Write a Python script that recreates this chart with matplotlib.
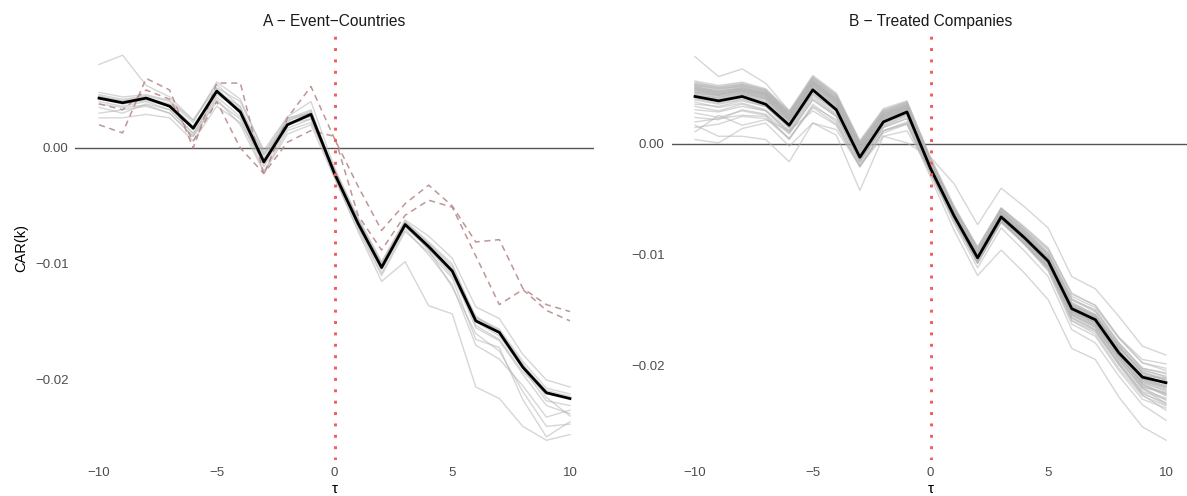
import matplotlib
matplotlib.use("Agg")
import matplotlib.pyplot as plt

plt.rcParams['font.family'] = ['Liberation Sans', 'DejaVu Sans']

tau = list(range(-10, 11))

# Mean CAR (black line), shared by both panels
car_mean = [0.0043, 0.0039, 0.0043, 0.0036, 0.0017, 0.0049, 0.0031, -0.0012, 0.0020, 0.0029,
            -0.0022, -0.0065, -0.0103, -0.0066, -0.0085, -0.0106, -0.0149, -0.0159, -0.0189, -0.0211, -0.0216]

# Panel A: leave-one-out lines (grey)
a_grey = [
    [0.0072, 0.0080, 0.0054, 0.0044, 0.0024, 0.0055, 0.0035, -0.0006, 0.0024, 0.0030, -0.0019, -0.0062, -0.0100, -0.0064, -0.0082, -0.0102, -0.0146, -0.0156, -0.0184, -0.0207, -0.0212],
    [0.0040, 0.0036, 0.0040, 0.0033, 0.0013, 0.0044, 0.0027, -0.0016, 0.0017, 0.0025, -0.0025, -0.0072, -0.0115, -0.0098, -0.0136, -0.0143, -0.0206, -0.0216, -0.0240, -0.0252, -0.0247],
    [0.0030, 0.0033, 0.0036, 0.0030, 0.0010, 0.0040, 0.0025, -0.0020, 0.0015, 0.0022, -0.0018, -0.0068, -0.0108, -0.0070, -0.0092, -0.0118, -0.0170, -0.0182, -0.0205, -0.0232, -0.0226],
    [0.0026, 0.0026, 0.0029, 0.0026, 0.0006, 0.0036, 0.0022, -0.0012, 0.0025, 0.0033, -0.0022, -0.0064, -0.0102, -0.0066, -0.0088, -0.0120, -0.0160, -0.0175, -0.0210, -0.0240, -0.0238],
    [0.0046, 0.0042, 0.0045, 0.0040, 0.0022, 0.0057, 0.0042, -0.0004, 0.0026, 0.0030, -0.0019, -0.0060, -0.0098, -0.0062, -0.0076, -0.0095, -0.0137, -0.0147, -0.0178, -0.0200, -0.0206],
    [0.0045, 0.0040, 0.0043, 0.0038, 0.0019, 0.0050, 0.0030, -0.0010, 0.0021, 0.0025, -0.0023, -0.0067, -0.0105, -0.0068, -0.0087, -0.0110, -0.0150, -0.0162, -0.0190, -0.0218, -0.0222],
    [0.0035, 0.0030, 0.0038, 0.0033, 0.0012, 0.0046, 0.0033, -0.0006, 0.0022, 0.0027, -0.0020, -0.0066, -0.0104, -0.0066, -0.0084, -0.0106, -0.0145, -0.0158, -0.0186, -0.0215, -0.0231],
    [0.0042, 0.0038, 0.0041, 0.0036, 0.0016, 0.0048, 0.0036, -0.0014, 0.0020, 0.0031, -0.0021, -0.0063, -0.0101, -0.0064, -0.0083, -0.0104, -0.0153, -0.0165, -0.0193, -0.0212, -0.0216],
    [0.0038, 0.0035, 0.0037, 0.0030, 0.0010, 0.0042, 0.0020, -0.0021, 0.0012, 0.0020, -0.0026, -0.0070, -0.0110, -0.0072, -0.0090, -0.0112, -0.0165, -0.0172, -0.0217, -0.0249, -0.0236],
    [0.0048, 0.0044, 0.0046, 0.0041, 0.0024, 0.0052, 0.0040, -0.0002, 0.0027, 0.0040, -0.0017, -0.0061, -0.0099, -0.0063, -0.0081, -0.0100, -0.0147, -0.0157, -0.0187, -0.0209, -0.0214],
    [0.0044, 0.0041, 0.0044, 0.0037, 0.0018, 0.0051, 0.0033, -0.0009, 0.0023, 0.0032, -0.0022, -0.0066, -0.0104, -0.0067, -0.0087, -0.0108, -0.0155, -0.0166, -0.0195, -0.0222, -0.0229],
]

# Panel A: dashed highlighted lines
a_dashed = [
    [0.0020, 0.0013, 0.0060, 0.0050, 0.0000, 0.0056, 0.0056, -0.0023, 0.0026, 0.0053, 0.0008, -0.0033, -0.0071, -0.0048, -0.0032, -0.0050, -0.0081, -0.0079, -0.0121, -0.0135, -0.0141],
    [0.0038, 0.0033, 0.0050, 0.0042, 0.0006, 0.0040, 0.0000, -0.0022, 0.0005, 0.0015, 0.0010, -0.0058, -0.0088, -0.0058, -0.0045, -0.0051, -0.0093, -0.0135, -0.0122, -0.0140, -0.0149],
]

# Panel B: leave-one-out lines (grey)
b_grey = [
    [0.0079, 0.0061, 0.0068, 0.0055, 0.0030, 0.0052, 0.0035, -0.0008, 0.0020, 0.0027, -0.0018, -0.0060, -0.0098, -0.0060, -0.0080, -0.0100, -0.0141, -0.0150, -0.0180, -0.0203, -0.0208],
    [0.0004, 0.0001, 0.0014, 0.0019, -0.0002, 0.0019, 0.0013, -0.0020, 0.0007, 0.0012, -0.0025, -0.0068, -0.0108, -0.0070, -0.0090, -0.0112, -0.0155, -0.0166, -0.0195, -0.0220, -0.0225],
    [0.0017, 0.0007, 0.0007, 0.0004, -0.0016, 0.0019, 0.0008, -0.0042, 0.0007, 0.0001, -0.0012, -0.0036, -0.0073, -0.0040, -0.0057, -0.0076, -0.0120, -0.0131, -0.0156, -0.0183, -0.0191],
    [0.0028, 0.0024, 0.0030, 0.0026, 0.0005, 0.0034, 0.0022, -0.0020, 0.0012, 0.0018, -0.0030, -0.0078, -0.0119, -0.0096, -0.0117, -0.0141, -0.0185, -0.0195, -0.0229, -0.0256, -0.0268],
    [0.0034, 0.0030, 0.0036, 0.0030, 0.0010, 0.0040, 0.0025, -0.0016, 0.0015, 0.0023, -0.0026, -0.0072, -0.0112, -0.0076, -0.0097, -0.0120, -0.0168, -0.0180, -0.0210, -0.0236, -0.0250],
    [0.0050, 0.0045, 0.0050, 0.0045, 0.0025, 0.0055, 0.0040, -0.0003, 0.0025, 0.0032, -0.0016, -0.0058, -0.0094, -0.0058, -0.0076, -0.0095, -0.0135, -0.0146, -0.0175, -0.0195, -0.0199],
    [0.0052, 0.0048, 0.0050, 0.0046, 0.0026, 0.0058, 0.0042, 0.0000, 0.0028, 0.0036, -0.0015, -0.0060, -0.0098, -0.0061, -0.0079, -0.0100, -0.0140, -0.0151, -0.0180, -0.0203, -0.0207],
    [0.0049, 0.0046, 0.0049, 0.0044, 0.0024, 0.0056, 0.0039, -0.0004, 0.0026, 0.0034, -0.0018, -0.0063, -0.0101, -0.0064, -0.0083, -0.0105, -0.0146, -0.0157, -0.0186, -0.0214, -0.0222],
    [0.0047, 0.0043, 0.0046, 0.0041, 0.0021, 0.0053, 0.0036, -0.0006, 0.0024, 0.0032, -0.0020, -0.0064, -0.0100, -0.0063, -0.0083, -0.0104, -0.0150, -0.0162, -0.0192, -0.0218, -0.0226],
    [0.0045, 0.0041, 0.0045, 0.0039, 0.0020, 0.0051, 0.0034, -0.0009, 0.0022, 0.0031, -0.0021, -0.0066, -0.0106, -0.0069, -0.0088, -0.0110, -0.0155, -0.0166, -0.0197, -0.0222, -0.0230],
    [0.0054, 0.0050, 0.0052, 0.0047, 0.0028, 0.0060, 0.0044, 0.0001, 0.0030, 0.0037, -0.0014, -0.0057, -0.0093, -0.0058, -0.0077, -0.0096, -0.0138, -0.0148, -0.0176, -0.0198, -0.0203],
    [0.0056, 0.0051, 0.0054, 0.0048, 0.0027, 0.0057, 0.0041, -0.0003, 0.0027, 0.0035, -0.0017, -0.0062, -0.0102, -0.0066, -0.0086, -0.0108, -0.0152, -0.0163, -0.0190, -0.0213, -0.0219],
    [0.0041, 0.0037, 0.0041, 0.0035, 0.0015, 0.0046, 0.0029, -0.0014, 0.0018, 0.0027, -0.0024, -0.0068, -0.0107, -0.0070, -0.0090, -0.0112, -0.0157, -0.0168, -0.0199, -0.0226, -0.0234],
    [0.0050, 0.0047, 0.0051, 0.0045, 0.0025, 0.0055, 0.0038, -0.0005, 0.0025, 0.0033, -0.0019, -0.0064, -0.0103, -0.0067, -0.0087, -0.0109, -0.0151, -0.0161, -0.0189, -0.0210, -0.0212],
    [0.0048, 0.0044, 0.0048, 0.0042, 0.0022, 0.0054, 0.0037, -0.0007, 0.0023, 0.0030, -0.0021, -0.0065, -0.0104, -0.0068, -0.0089, -0.0113, -0.0160, -0.0172, -0.0203, -0.0228, -0.0237],
    [0.0055, 0.0052, 0.0055, 0.0049, 0.0029, 0.0061, 0.0045, 0.0002, 0.0031, 0.0038, -0.0013, -0.0058, -0.0096, -0.0060, -0.0078, -0.0099, -0.0143, -0.0155, -0.0184, -0.0207, -0.0214],
    [0.0046, 0.0042, 0.0047, 0.0041, 0.0021, 0.0052, 0.0035, -0.0008, 0.0023, 0.0031, -0.0020, -0.0063, -0.0101, -0.0064, -0.0084, -0.0105, -0.0148, -0.0158, -0.0187, -0.0210, -0.0217],
    [0.0038, 0.0033, 0.0037, 0.0031, 0.0012, 0.0044, 0.0027, -0.0016, 0.0016, 0.0025, -0.0025, -0.0069, -0.0108, -0.0071, -0.0090, -0.0111, -0.0154, -0.0164, -0.0193, -0.0215, -0.0220],
    [0.0036, 0.0034, 0.0039, 0.0034, 0.0014, 0.0045, 0.0030, -0.0011, 0.0021, 0.0030, -0.0020, -0.0062, -0.0099, -0.0062, -0.0081, -0.0102, -0.0145, -0.0156, -0.0186, -0.0209, -0.0213],
    [0.0051, 0.0048, 0.0052, 0.0046, 0.0026, 0.0057, 0.0040, -0.0003, 0.0027, 0.0034, -0.0018, -0.0064, -0.0104, -0.0069, -0.0091, -0.0115, -0.0163, -0.0174, -0.0205, -0.0231, -0.0239],
    [0.0053, 0.0049, 0.0053, 0.0047, 0.0027, 0.0059, 0.0043, 0.0000, 0.0029, 0.0036, -0.0016, -0.0061, -0.0099, -0.0063, -0.0082, -0.0103, -0.0146, -0.0156, -0.0184, -0.0205, -0.0210],
    [0.0044, 0.0040, 0.0044, 0.0038, 0.0018, 0.0050, 0.0033, -0.0010, 0.0021, 0.0030, -0.0022, -0.0066, -0.0104, -0.0067, -0.0086, -0.0107, -0.0151, -0.0161, -0.0191, -0.0217, -0.0228],
    [0.0031, 0.0029, 0.0034, 0.0030, 0.0011, 0.0042, 0.0026, -0.0015, 0.0017, 0.0026, -0.0023, -0.0066, -0.0103, -0.0066, -0.0085, -0.0105, -0.0147, -0.0157, -0.0187, -0.0212, -0.0219],
    [0.0049, 0.0045, 0.0049, 0.0043, 0.0023, 0.0055, 0.0039, -0.0005, 0.0024, 0.0033, -0.0019, -0.0063, -0.0102, -0.0065, -0.0084, -0.0106, -0.0149, -0.0160, -0.0190, -0.0215, -0.0224],
    [0.0057, 0.0053, 0.0056, 0.0050, 0.0030, 0.0062, 0.0046, 0.0003, 0.0032, 0.0039, -0.0012, -0.0056, -0.0094, -0.0058, -0.0075, -0.0094, -0.0136, -0.0146, -0.0175, -0.0198, -0.0205],
    [0.0043, 0.0040, 0.0045, 0.0040, 0.0019, 0.0050, 0.0034, -0.0010, 0.0020, 0.0029, -0.0022, -0.0067, -0.0106, -0.0070, -0.0091, -0.0114, -0.0160, -0.0170, -0.0199, -0.0224, -0.0231],
    [0.0040, 0.0036, 0.0040, 0.0034, 0.0015, 0.0047, 0.0032, -0.0013, 0.0019, 0.0028, -0.0023, -0.0067, -0.0105, -0.0068, -0.0087, -0.0108, -0.0152, -0.0162, -0.0192, -0.0219, -0.0227],
    [0.0024, 0.0022, 0.0031, 0.0027, 0.0009, 0.0040, 0.0025, -0.0016, 0.0015, 0.0023, -0.0024, -0.0067, -0.0104, -0.0066, -0.0084, -0.0104, -0.0146, -0.0155, -0.0184, -0.0207, -0.0212],
    [0.0050, 0.0046, 0.0048, 0.0044, 0.0024, 0.0054, 0.0038, -0.0006, 0.0026, 0.0034, -0.0017, -0.0061, -0.0100, -0.0064, -0.0083, -0.0104, -0.0145, -0.0155, -0.0183, -0.0206, -0.0214],
    [0.0047, 0.0044, 0.0047, 0.0042, 0.0022, 0.0053, 0.0037, -0.0007, 0.0023, 0.0032, -0.0020, -0.0065, -0.0103, -0.0066, -0.0086, -0.0108, -0.0154, -0.0165, -0.0195, -0.0220, -0.0232],
    [0.0052, 0.0047, 0.0051, 0.0045, 0.0023, 0.0056, 0.0040, -0.0002, 0.0028, 0.0035, -0.0016, -0.0060, -0.0097, -0.0061, -0.0080, -0.0101, -0.0144, -0.0154, -0.0182, -0.0208, -0.0218],
    [0.0046, 0.0044, 0.0048, 0.0043, 0.0023, 0.0055, 0.0038, -0.0006, 0.0025, 0.0033, -0.0019, -0.0064, -0.0102, -0.0065, -0.0085, -0.0107, -0.0153, -0.0164, -0.0194, -0.0221, -0.0235],
    [0.0020, 0.0023, 0.0026, 0.0025, 0.0004, 0.0036, 0.0020, -0.0018, 0.0012, 0.0020, -0.0026, -0.0068, -0.0106, -0.0068, -0.0086, -0.0107, -0.0150, -0.0160, -0.0188, -0.0210, -0.0216],
    [0.0053, 0.0050, 0.0053, 0.0048, 0.0028, 0.0059, 0.0042, -0.0001, 0.0029, 0.0037, -0.0014, -0.0059, -0.0097, -0.0062, -0.0081, -0.0103, -0.0148, -0.0160, -0.0191, -0.0217, -0.0226],
    [0.0048, 0.0045, 0.0049, 0.0044, 0.0024, 0.0056, 0.0040, -0.0004, 0.0026, 0.0035, -0.0017, -0.0062, -0.0100, -0.0063, -0.0082, -0.0103, -0.0147, -0.0158, -0.0188, -0.0213, -0.0221],
    [0.0015, 0.0018, 0.0025, 0.0023, 0.0005, 0.0033, 0.0018, -0.0020, 0.0010, 0.0018, -0.0027, -0.0070, -0.0108, -0.0071, -0.0091, -0.0112, -0.0157, -0.0168, -0.0198, -0.0225, -0.0236],
    [0.0051, 0.0047, 0.0050, 0.0046, 0.0026, 0.0057, 0.0041, -0.0002, 0.0027, 0.0035, -0.0016, -0.0061, -0.0100, -0.0064, -0.0084, -0.0105, -0.0149, -0.0159, -0.0187, -0.0212, -0.0220],
    [0.0044, 0.0042, 0.0046, 0.0041, 0.0021, 0.0053, 0.0037, -0.0006, 0.0023, 0.0032, -0.0020, -0.0064, -0.0103, -0.0067, -0.0088, -0.0111, -0.0158, -0.0169, -0.0200, -0.0227, -0.0241],
    [0.0054, 0.0051, 0.0054, 0.0049, 0.0029, 0.0060, 0.0044, 0.0001, 0.0030, 0.0038, -0.0014, -0.0058, -0.0095, -0.0059, -0.0078, -0.0098, -0.0141, -0.0152, -0.0181, -0.0204, -0.0211],
    [0.0011, 0.0026, 0.0017, 0.0022, 0.0012, 0.0030, 0.0017, -0.0021, 0.0012, 0.0019, -0.0025, -0.0068, -0.0106, -0.0068, -0.0087, -0.0109, -0.0152, -0.0162, -0.0192, -0.0216, -0.0223],
]

titles = ["A \u2212 Event\u2212Countries", "B \u2212 Treated Companies"]
x_ticks = [-10, -5, 0, 5, 10]
x_tick_labels = ["\u221210", "\u22125", "0", "5", "10"]
y_ticks = [0.0, -0.01, -0.02]
y_tick_labels = ["0.00", "\u22120.01", "\u22120.02"]

W, H = 1187, 496
fig = plt.figure(figsize=(W / 100, H / 100), dpi=100)

def px_axes(left, right, top, bottom):
    return fig.add_axes([left / W, 1 - bottom / H, (right - left) / W, (bottom - top) / H])

axA = px_axes(75.5, 593.5, 36, 460)
axB = px_axes(671.5, 1189.5, 36, 460)

# y limits derived from pixel mapping of the reference
ylims = [(-(460 - 148) / 11600, (148 - 36) / 11600),
         (-(460 - 144) / 11050, (144 - 36) / 11050)]

grey_col = '#B5B5B5'
for ax, greys, title, yl in [(axA, a_grey, titles[0], ylims[0]), (axB, b_grey, titles[1], ylims[1])]:
    ax.axhline(0, color='#555555', lw=1.0, zorder=1)
    for g in greys:
        ax.plot(tau, g, color=grey_col, lw=1.0, alpha=0.55, zorder=2)
    if ax is axA:
        for d in a_dashed:
            ax.plot(tau, d, color='#B88A8A', lw=1.1, ls=(0, (4, 3)), alpha=0.9, zorder=3)
    ax.plot(tau, car_mean, color='black', lw=2.0, zorder=4)
    ax.axvline(0, color='#F25C5C', lw=2.1, ls=(0, (1.0, 2.9)), dash_capstyle='butt', zorder=5)
    ax.set_xlim(-11, 11)
    ax.set_ylim(*yl)
    ax.set_xticks(x_ticks)
    ax.set_xticklabels(x_tick_labels)
    ax.set_yticks(y_ticks)
    ax.set_yticklabels(y_tick_labels)
    ax.tick_params(length=0, labelsize=9.5, labelcolor='#4D4D4D', pad=5)
    for s in ax.spines.values():
        s.set_visible(False)
    ax.set_title(title, fontsize=11.2, color='#1A1A1A', pad=7)
    ax.set_xlabel("\u03c4", fontsize=11, color='black', labelpad=2)

axA.set_ylabel("CAR(k)", fontsize=10.5, color='black', labelpad=5)

fig.savefig("out.png", dpi=100)
